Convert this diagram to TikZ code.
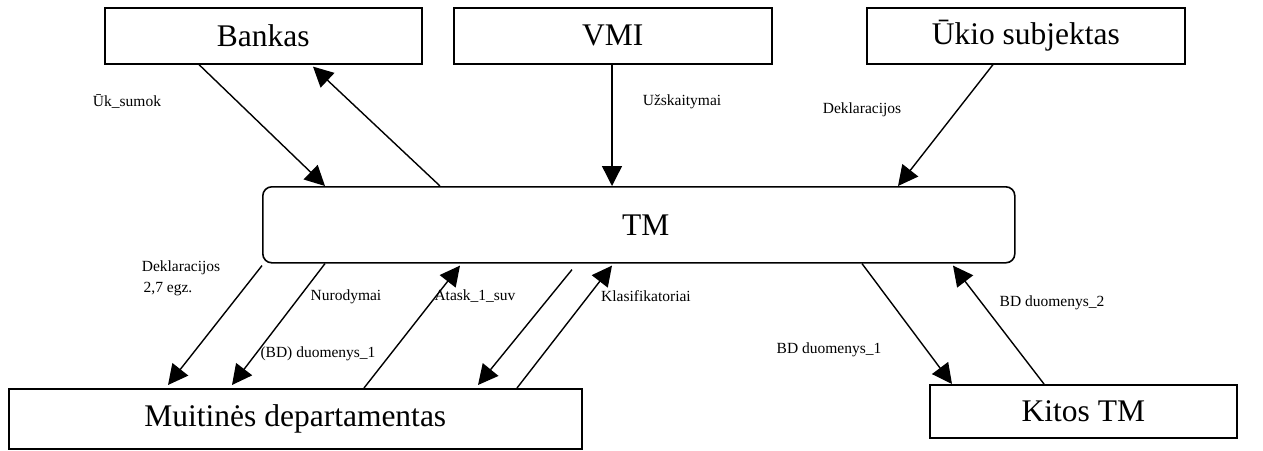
\documentclass[tikz,border=0pt]{standalone}
\usepackage{fontspec}
\setmainfont{Liberation Serif}
\usetikzlibrary{arrows.meta}
\begin{document}
\begin{tikzpicture}[x=1pt,y=-1pt,
  box/.style={draw,line width=1.6pt,inner sep=0pt,anchor=north west,font=\fontsize{31.5}{36}\selectfont},
  arr/.style={line width=1.4pt,-{Triangle[length=20pt,width=20pt]}},
  lbl/.style={inner sep=0pt,font=\fontsize{15.5}{18}\selectfont}]
\useasboundingbox (0,0) rectangle (1263,450);
\node[box,minimum width=317pt,minimum height=56pt] (bank) at (104,7) {Bankas};
\node[box,minimum width=318pt,minimum height=56pt] (vmi) at (453,7) {VMI};
\node[box,minimum width=318pt,minimum height=56pt] (uk) at (866,7) {Ūkio subjektas};
\node[box,rounded corners=9pt,minimum width=752pt,minimum height=76pt] (tm) at (262,186) {\hspace*{14pt}TM};
\node[box,minimum width=573pt,minimum height=60pt] (muit) at (8,388) {Muitinės departamentas};
\node[box,minimum width=307pt,minimum height=53pt] (kitos) at (929,384) {Kitos TM};
% connectors
\draw[arr] ([xshift=95pt]bank.south west) -- ([xshift=63pt]tm.north west);
\draw[arr] ([xshift=178pt]tm.north west) -- ([xshift=209pt,yshift=-2pt]bank.south west);
\draw[arr] ([xshift=159pt]vmi.south west) -- ([xshift=350pt]tm.north west);
\draw[arr] ([xshift=127pt]uk.south west) -- ([xshift=636pt]tm.north west);
\draw[arr] ([xshift=0pt,yshift=-2pt]tm.south west) -- ([xshift=160pt,yshift=3pt]muit.north west);
\draw[arr] ([xshift=63pt]tm.south west) -- ([xshift=224pt,yshift=3pt]muit.north west);
\draw[arr] ([xshift=356pt]muit.north west) -- ([xshift=198pt,yshift=-2pt]tm.south west);
\draw[arr] ([xshift=310pt,yshift=-6pt]tm.south west) -- ([xshift=470pt,yshift=3pt]muit.north west);
\draw[arr] ([xshift=509pt]muit.north west) -- ([xshift=350pt,yshift=-2pt]tm.south west);
\draw[arr] ([xshift=600pt]tm.south west) -- ([xshift=23pt]kitos.north west);
\draw[arr] ([xshift=115pt]kitos.north west) -- ([xshift=691pt,yshift=-2pt]tm.south west);
% labels
\node[lbl] (l1) at (127,102) {Ūk\_sumok};
\node[lbl] (l2) at (682,102) {Užskaitymai};
\node[lbl] (l3) at (862,110) {Deklaracijos};
\node[lbl] (l4) at (181,268) {Deklaracijos};
\node[lbl] (l5) at (168,289) {2,7 egz.};
\node[lbl] (l6) at (346,297) {Nurodymai};
\node[lbl] (l7) at (318,354) {(BD) duomenys\_1};
\node[lbl] (l8) at (475,296) {Atask\_1\_suv};
\node[lbl] (l9) at (646,296) {Klasifikatoriai};
\node[lbl] (l10) at (829,350) {BD duomenys\_1};
\node[lbl] (l11) at (1052,303) {BD duomenys\_2};
\end{tikzpicture}
\end{document}
